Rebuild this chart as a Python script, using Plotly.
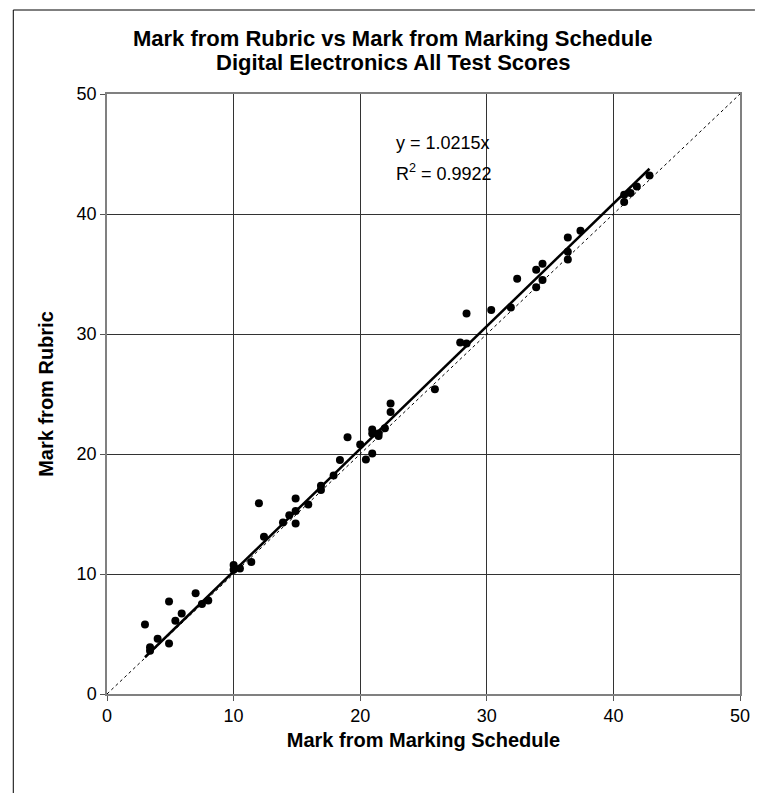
import plotly.graph_objects as go

# Data
schedule_marks = [3.0, 3.4, 3.4, 4.0, 4.9, 4.9, 5.4, 5.9, 7.0, 7.5, 8.0, 10.0, 10.0, 10.5, 11.4,
                  12.0, 12.4, 13.9, 14.4, 14.9, 14.9, 14.9, 15.9, 16.9, 16.9, 17.9, 18.4, 19.0,
                  20.0, 20.45, 20.95, 20.95, 20.95, 21.45, 21.45, 21.95, 22.4, 22.4, 25.9, 27.9,
                  28.4, 28.4, 30.35, 31.9, 32.4, 33.9, 34.4, 33.9, 34.4, 36.4, 36.4, 36.4, 37.4,
                  40.85, 40.85, 41.35, 41.85, 42.85]
rubric_marks = [5.8, 3.9, 3.6, 4.6, 7.7, 4.2, 6.1, 6.7, 8.4, 7.5, 7.8, 10.75, 10.35, 10.45, 11.0,
                15.9, 13.1, 14.3, 14.9, 15.25, 16.3, 14.2, 15.8, 17.35, 17.0, 18.2, 19.5, 21.4,
                20.8, 19.55, 20.05, 22.05, 21.7, 21.7, 21.5, 22.15, 23.5, 24.2, 25.4, 29.3,
                29.2, 31.7, 32.0, 32.2, 34.6, 35.35, 35.85, 33.9, 34.5, 38.05, 36.85, 36.2, 38.6,
                41.6, 41.0, 41.75, 42.3, 43.2]
TREND_SLOPE = 1.0215
R_SQUARED = 0.9922
AXIS_MAX = 50
tick_values = [0, 10, 20, 30, 40, 50]

FONT = "Liberation Sans, Arial, sans-serif"

fig = go.Figure()

# y = x reference (dotted)
fig.add_trace(go.Scatter(x=[0, AXIS_MAX], y=[0, AXIS_MAX], mode="lines",
                         line=dict(color="black", width=1, dash="dot"),
                         hoverinfo="skip", showlegend=False))

# data points
fig.add_trace(go.Scatter(x=schedule_marks, y=rubric_marks, mode="markers",
                         marker=dict(color="black", size=8),
                         showlegend=False))

# linear trendline through origin
xmin, xmax = min(schedule_marks), max(schedule_marks)
fig.add_trace(go.Scatter(x=[xmin, xmax], y=[TREND_SLOPE * xmin, TREND_SLOPE * xmax],
                         mode="lines", line=dict(color="black", width=2.5),
                         hoverinfo="skip", showlegend=False))

axis_common = dict(range=[0, AXIS_MAX], tickvals=tick_values, showgrid=True,
                   gridcolor="#333333", gridwidth=1, zeroline=False,
                   showline=True, linecolor="#808080", linewidth=1.5, mirror=True,
                   ticks="outside", ticklen=5, tickcolor="#555555",
                   tickfont=dict(family=FONT, size=18, color="black"))

fig.update_xaxes(**axis_common,
                 title=dict(text="<b>Mark from Marking Schedule</b>",
                            font=dict(family=FONT, size=20, color="black"), standoff=8))
fig.update_yaxes(**axis_common,
                 title=dict(text="<b>Mark from Rubric</b>",
                            font=dict(family=FONT, size=20, color="black"), standoff=18))

fig.update_layout(
    width=762, height=793, autosize=False,
    margin=dict(l=107, r=20, t=94, b=99),
    paper_bgcolor="white", plot_bgcolor="white",
    annotations=[
        dict(text="<b>Mark from Rubric vs Mark from Marking Schedule</b>", xref="paper", yref="paper",
             x=0.452, y=1.0, yshift=56, showarrow=False, xanchor="center", yanchor="middle",
             font=dict(family=FONT, size=22, color="black")),
        dict(text="<b>Digital Electronics All Test Scores</b>", xref="paper", yref="paper",
             x=0.452, y=1.0, yshift=32, showarrow=False, xanchor="center", yanchor="middle",
             font=dict(family=FONT, size=22, color="black")),
        dict(text=f"y = {TREND_SLOPE}x", xref="x", yref="y", x=22.7, y=45.9,
             showarrow=False, xanchor="left", yanchor="middle",
             font=dict(family=FONT, size=18, color="black")),
        dict(text=f"R<sup>2</sup> = {R_SQUARED}", xref="x", yref="y", x=22.7, y=43.5,
             showarrow=False, xanchor="left", yanchor="middle",
             font=dict(family=FONT, size=18, color="black")),
    ],
    shapes=[
        dict(type="line", xref="paper", yref="paper", x0=(13 - 107) / 635, x1=(13 - 107) / 635,
             y0=(694 - 793) / 600, y1=(694 - 10) / 600, line=dict(color="black", width=1)),
        dict(type="line", xref="paper", yref="paper", x0=(13 - 107) / 635, x1=(757 - 107) / 635,
             y0=(694 - 10) / 600, y1=(694 - 10) / 600, line=dict(color="black", width=1)),
    ],
)

fig.write_html("out.html")
